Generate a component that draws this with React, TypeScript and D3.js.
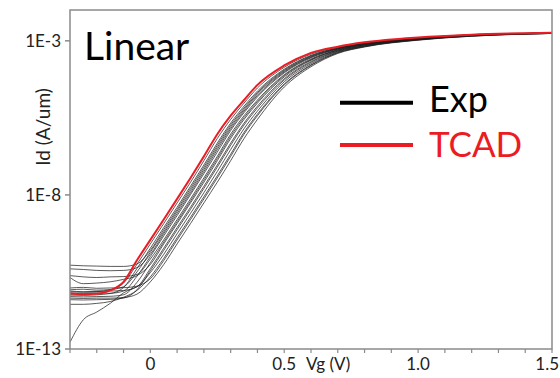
import React from "react";
import * as d3 from "d3";

// Gate voltage sample points (V)
const vg = [-0.3, -0.25, -0.2, -0.15, -0.1, -0.05, 0, 0.05, 0.1, 0.15, 0.2, 0.25, 0.3, 0.35, 0.4, 0.5, 0.6, 0.7, 0.8, 1.0, 1.2, 1.5];

// log10(Id [A/um]) for TCAD
const tcad = [-11.19, -11.22, -11.21, -11.10, -10.82, -10.12, -9.46, -8.80, -8.13, -7.45, -6.75, -6.03, -5.43, -4.92, -4.43, -3.80, -3.39, -3.19, -3.05, -2.89, -2.80, -2.74];

// log10(Id [A/um]) for measured devices
const exp01 = [-11.15, -11.16, -11.14, -11.08, -10.86, -10.25, -9.59, -8.93, -8.26, -7.59, -6.89, -6.17, -5.55, -5.02, -4.53, -3.86, -3.43, -3.21, -3.06, -2.90, -2.80, -2.74];
const exp02 = [-11.25, -11.26, -11.24, -11.20, -11.00, -10.39, -9.73, -9.06, -8.40, -7.72, -7.03, -6.32, -5.67, -5.12, -4.63, -3.92, -3.47, -3.23, -3.08, -2.91, -2.81, -2.75];
const exp03 = [-10.28, -10.30, -10.31, -10.32, -10.32, -10.24, -9.80, -9.13, -8.47, -7.79, -7.10, -6.39, -5.73, -5.18, -4.68, -3.95, -3.49, -3.24, -3.09, -2.91, -2.81, -2.75];
const exp04 = [-11.08, -11.06, -11.09, -11.07, -10.98, -10.50, -9.86, -9.20, -8.53, -7.86, -7.17, -6.46, -5.79, -5.23, -4.72, -3.98, -3.51, -3.25, -3.09, -2.91, -2.81, -2.75];
const exp05 = [-10.40, -10.42, -10.45, -10.46, -10.45, -10.36, -9.93, -9.26, -8.60, -7.93, -7.24, -6.53, -5.85, -5.28, -4.77, -4.01, -3.53, -3.26, -3.10, -2.92, -2.81, -2.75];
const exp06 = [-11.22, -11.20, -11.18, -11.19, -11.12, -10.64, -10.00, -9.33, -8.67, -7.99, -7.31, -6.61, -5.91, -5.33, -4.82, -4.04, -3.55, -3.27, -3.11, -2.92, -2.82, -2.75];
const exp07 = [-10.62, -10.66, -10.68, -10.66, -10.65, -10.58, -10.08, -9.46, -8.80, -8.13, -7.45, -6.75, -6.03, -5.43, -4.92, -4.10, -3.59, -3.29, -3.12, -2.93, -2.82, -2.75];
const exp08 = [-11.30, -11.31, -11.30, -11.29, -11.24, -10.84, -10.20, -9.53, -8.87, -8.20, -7.52, -6.82, -6.10, -5.49, -4.97, -4.13, -3.61, -3.30, -3.13, -2.93, -2.82, -2.75];
const exp09 = [-10.68, -10.88, -10.86, -10.82, -10.74, -10.62, -10.26, -9.59, -8.93, -8.26, -7.59, -6.89, -6.17, -5.55, -5.02, -4.17, -3.63, -3.31, -3.13, -2.94, -2.82, -2.75];
const exp10 = [-11.12, -11.14, -11.13, -11.12, -11.10, -10.98, -10.39, -9.73, -9.06, -8.40, -7.72, -7.03, -6.32, -5.67, -5.12, -4.23, -3.67, -3.33, -3.15, -2.95, -2.83, -2.75];
const exp11 = [-11.40, -11.41, -11.40, -11.39, -11.35, -11.08, -10.46, -9.80, -9.13, -8.47, -7.79, -7.10, -6.39, -5.73, -5.18, -4.27, -3.70, -3.34, -3.16, -2.95, -2.83, -2.76];
const exp12 = [-11.02, -11.00, -11.03, -11.02, -11.01, -10.96, -10.52, -9.93, -9.26, -8.60, -7.93, -7.24, -6.53, -5.85, -5.28, -4.33, -3.74, -3.36, -3.17, -2.96, -2.84, -2.76];
const exp13 = [-11.55, -11.55, -11.52, -11.46, -11.32, -11.10, -10.66, -10.06, -9.39, -8.73, -8.06, -7.38, -6.68, -5.97, -5.38, -4.40, -3.78, -3.38, -3.18, -2.97, -2.84, -2.76];
const exp14 = [-12.78, -12.05, -11.80, -11.52, -11.18, -10.98, -10.72, -10.13, -9.46, -8.80, -8.13, -7.45, -6.75, -6.03, -5.43, -4.43, -3.80, -3.39, -3.19, -2.97, -2.85, -2.76];
const exp15 = [-11.35, -11.36, -11.35, -11.35, -11.33, -11.22, -10.82, -10.26, -9.59, -8.93, -8.26, -7.59, -6.89, -6.17, -5.55, -4.50, -3.84, -3.41, -3.20, -2.98, -2.85, -2.76];

const expRuns = [exp01, exp02, exp03, exp04, exp05, exp06, exp07, exp08, exp09, exp10, exp11, exp12, exp13, exp14, exp15];

const yTickValues = [1e-3, 1e-8, 1e-13];
const yTickLabels = ["1E-3", "1E-8", "1E-13"];
const xLabelValues = [0, 0.5, 1.0, 1.5];
const xLabelTexts = ["0", "0.5", "1.0", "1.5"];
const legendNames = ["Exp", "TCAD"];

const W = 560;
const H = 378;
const left = 70, right = 552, top = 10, bottom = 349;
const FONT = "Lato, 'Open Sans', sans-serif";
const RED = "#ec1c24";
const FRAME = "#8a8a8a";

export default function App() {
  const x = d3.scaleLinear().domain([-0.3, 1.5]).range([left, right]);
  const y = d3.scaleLog().domain([1e-13, 1e-2]).range([bottom, top]);

  const line = d3
    .line<number>()
    .x((_, i) => x(vg[i]))
    .y((v) => y(Math.pow(10, v)))
    .curve(d3.curveMonotoneX);

  const minorTicks = d3.range(-3, 16).map((k) => k / 10);

  return (
    <svg
      width={W}
      height={H}
      style={{ position: "absolute", left: 0, top: 0, background: "#fff" }}
      fontFamily={FONT}
    >
      <defs>
        <clipPath id="plot">
          <rect x={left} y={top} width={right - left} height={bottom - top} />
        </clipPath>
      </defs>

      {/* curves */}
      <g clipPath="url(#plot)">
        {expRuns.map((run, i) => (
          <path key={i} d={line(run) || ""} fill="none" stroke="#1a1a1a" strokeWidth={0.9} strokeOpacity={0.8} />
        ))}
        <path d={line(tcad) || ""} fill="none" stroke={RED} strokeWidth={2} />
      </g>

      {/* frame */}
      <rect x={left} y={top} width={right - left} height={bottom - top} fill="none" stroke={FRAME} strokeWidth={1.5} />

      {/* y ticks */}
      {yTickValues.map((v, i) => (
        <g key={i}>
          <line x1={left - 5} x2={left} y1={y(v)} y2={y(v)} stroke={FRAME} strokeWidth={1.5} />
          <text x={left - 9} y={y(v)} dy="0.35em" textAnchor="end" fontSize={17} fill="#222">
            {yTickLabels[i]}
          </text>
        </g>
      ))}

      {/* x ticks */}
      {minorTicks.map((v, i) => (
        <line key={i} x1={x(v)} x2={x(v)} y1={bottom} y2={bottom + 4} stroke={FRAME} strokeWidth={1.2} />
      ))}
      {xLabelValues.map((v, i) => (
        <text
          key={i}
          x={i === xLabelValues.length - 1 ? W - 1 : x(v)}
          y={370}
          textAnchor={i === xLabelValues.length - 1 ? "end" : "middle"}
          fontSize={17}
          fill="#222"
        >
          {xLabelTexts[i]}
        </text>
      ))}
      <text x={306} y={370} fontSize={17} fill="#222">Vg (V)</text>

      {/* y label */}
      <text
        transform={`translate(50, 127) rotate(-90)`}
        textAnchor="middle"
        fontSize={19}
        fill="#222"
      >
        Id (A/um)
      </text>

      {/* title */}
      <text x={84} y={60} fontSize={39} fill="#000">Linear</text>

      {/* legend */}
      <line x1={340} x2={413} y1={102.7} y2={102.7} stroke="#000" strokeWidth={4} />
      <text x={429} y={111.5} fontSize={36} fill="#000">{legendNames[0]}</text>
      <line x1={340} x2={413} y1={145} y2={145} stroke={RED} strokeWidth={4} />
      <text x={429} y={156.5} fontSize={35} fill={RED}>{legendNames[1]}</text>
    </svg>
  );
}
